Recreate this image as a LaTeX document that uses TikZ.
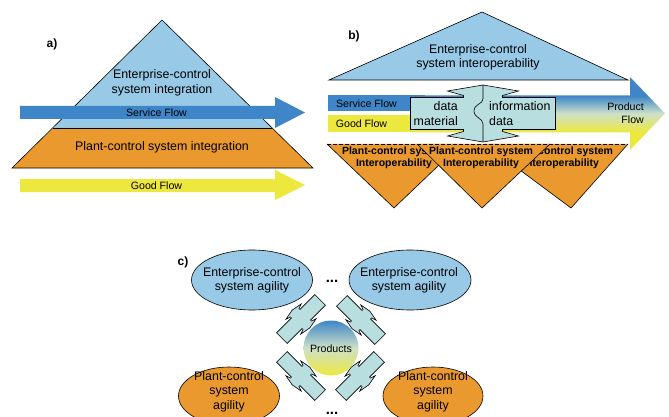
\documentclass[tikz,border=0pt]{standalone}
\usepackage{fontspec}
\setmainfont{Liberation Sans}
\definecolor{entblue}{RGB}{152,202,232}
\definecolor{plantor}{RGB}{233,153,45}
\definecolor{servblue}{RGB}{62,134,199}
\definecolor{goodyel}{RGB}{237,232,62}
\definecolor{ifcyan}{RGB}{185,222,224}
\definecolor{midpale}{RGB}{205,225,200}
\pgfdeclareverticalshading{prodflow}{100bp}{color(0bp)=(goodyel); color(37bp)=(goodyel); color(50bp)=(midpale); color(62bp)=(servblue); color(100bp)=(servblue)}
\newcommand{\ifpath}[7]{(-#1,-#2) -- (-#3,-#2) -- (-#3,-#4) -- (-#5,-#6) -- (0,-#7) -- (#5,-#6) -- (#3,-#4) -- (#3,-#2) -- (#1,-#2) -- (#1,#2) -- (#3,#2) -- (#3,#4) -- (#5,#6) -- (0,#7) -- (-#5,#6) -- (-#3,#4) -- (-#3,#2) -- (-#1,#2) -- cycle}
\begin{document}
\begin{tikzpicture}[x=1pt,y=-1pt,
  txt/.style={font=\fontsize{12.4}{14.5}\selectfont, align=center, inner sep=0pt},
  small/.style={font=\fontsize{10.6}{13}\selectfont, align=center, inner sep=0pt},
  boldtxt/.style={font=\bfseries\fontsize{10.5}{12}\selectfont, align=center, inner sep=0pt},
  lbl/.style={font=\bfseries\fontsize{12}{14}\selectfont, inner sep=0pt},
  dotstxt/.style={font=\bfseries\fontsize{15}{16}\selectfont, inner sep=0pt},
  outl/.style={draw=black, line width=0.6pt, line join=miter},
  iface/.style={fill=ifcyan, draw=black, line width=0.6pt, line join=miter},
]
\useasboundingbox (0,0) rectangle (669,417);
\fill[white] (0,0) rectangle (669,417);

% ---------- a) ----------
\node[lbl] (la) at (52,44) {a)};
\fill[entblue] (162,20) -- (272,128) -- (53,128) -- cycle;
\fill[plantor] (53,128) -- (272,128) -- (313,168) -- (12,168) -- cycle;
\draw[outl] (162,20) -- (313,168) -- (12,168) -- cycle;
\draw[outl] (53,128) -- (272,128);
\node[txt] (ea) at (162,83) {Enterprise-control\\system integration};
\fill[servblue] (20,106) -- (275,106) -- (275,97) -- (305,112.5) -- (275,128) -- (275,119) -- (20,119) -- cycle;
\node[small] (sfa) at (156.5,112.5) {Service Flow};
\node[txt] (pa) at (162,147) {Plant-control system integration};
\fill[goodyel] (20,179) -- (275,179) -- (275,170) -- (305,185) -- (275,200) -- (275,192) -- (20,192) -- cycle;
\node[small] (gfa) at (156.5,185.5) {Good Flow};

% ---------- b) ----------
\node[lbl] (lb) at (354,36) {b)};
\fill[entblue] (482,12) -- (628,80) -- (329,80) -- cycle;
\draw[outl] (482,12) -- (628,80) -- (329,80) -- cycle;
\node[txt] (eb) at (478,57.5) {Enterprise-control\\system interoperability};
\shade[shading=prodflow] (415,95.5) -- (630,95.5) -- (630,77) -- (665,113.5) -- (630,150) -- (630,132.5) -- (415,132.5) -- cycle;
\fill[servblue] (328,95.5) rectangle (425,111);
\fill[goodyel] (328,115) rectangle (425,132.5);
\node[small] (sfb) at (366.5,103.3) {Service Flow};
\node[small] (gfb) at (361.5,124) {Good Flow};
\node[small, align=right, anchor=east] (pf) at (644,113.5) {Product\\Flow};
\draw[iface, shift={(483,113.5)}] \ifpath{72.5}{16}{19.5}{18}{35.5}{22.5}{28.5};
\draw[line width=0.6pt] (483,85) -- (483,99) .. controls (483,104) and (474,104) .. (474,111) .. controls (474,118) and (483,118) .. (483,124) -- (483,142);
\node[txt, align=right, anchor=east] (dm) at (458,113.5) {data\\material};
\node[txt, align=left, anchor=west] (id) at (489,113.5) {information\\data};

\fill[plantor] (327,144) -- (461,144) -- (394,208) -- cycle;
\draw[outl] (327,144) -- (394,208) -- (461,144);
\node[boldtxt] (t1) at (394,158) {Plant-control system\\Interoperability};
\fill[plantor] (485,144) -- (628,144) -- (571,208) -- cycle;
\draw[outl] (485,144) -- (571,208) -- (628,144);
\node[boldtxt] (t3) at (561,158) {Plant-control system\\Interoperability};
\fill[plantor] (417,144) -- (550,144) -- (482,208) -- cycle;
\draw[outl] (417,144) -- (482,208) -- (550,144);
\node[boldtxt] (t2) at (481,158) {Plant-control system\\Interoperability};
\draw[line width=0.6pt, dash pattern=on 4pt off 2pt] (327,144) -- (628,144);

% ---------- c) ----------
\node[lbl] (lc) at (183,262) {c)};
\draw[outl, fill=entblue] (252,280) ellipse [x radius=60.5pt, y radius=30pt];
\draw[outl, fill=entblue] (410,280) ellipse [x radius=61pt, y radius=30pt];
\draw[outl, fill=plantor] (229,396) ellipse [x radius=50.5pt, y radius=29pt];
\draw[outl, fill=plantor] (433,396) ellipse [x radius=50pt, y radius=29pt];
\node[txt] (c1) at (252,280.5) {Enterprise-control\\system agility};
\node[txt] (c2) at (409,280.5) {Enterprise-control\\system agility};
\node[txt] (c3) at (229,391.5) {Plant-control\\system\\agility};
\node[txt] (c4) at (433,391.5) {Plant-control\\system\\agility};
\node[dotstxt] (dots1) at (332,281) {...};
\node[dotstxt] (dots2) at (332,413) {...};
\draw[iface, shift={(301,319)}, rotate=45] \ifpath{27}{7.5}{6}{9}{11}{10.5}{12.5};
\draw[iface, shift={(361,320)}, rotate=-45] \ifpath{27}{7.5}{6}{9}{11}{10.5}{12.5};
\draw[iface, shift={(301,376)}, rotate=-45] \ifpath{27}{7.5}{6}{9}{11}{10.5}{12.5};
\draw[iface, shift={(360,376)}, rotate=45] \ifpath{27}{7.5}{6}{9}{11}{10.5}{12.5};
\shade[top color=servblue, bottom color=goodyel, middle color=midpale] (331,348) circle [radius=27.5pt];
\node[small] (prod) at (331,349) {Products};
\end{tikzpicture}
\end{document}
